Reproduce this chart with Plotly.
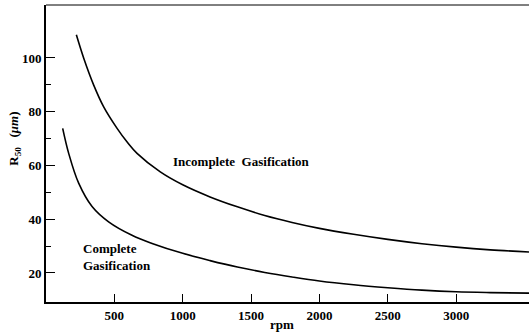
import plotly.graph_objects as go

# Data
rpm_incomplete = [222, 276, 349, 422, 520, 595, 666, 836, 1000, 1200, 1400, 1600, 1800, 2000,
                  2250, 2500, 2750, 3000, 3250, 3533]
r50_incomplete = [108.6, 99.9, 89.9, 81.8, 73.8, 68.6, 64.5, 57.6, 52.8, 48.3, 44.6, 41.4, 38.8,
                  36.6, 34.4, 32.5, 30.9, 29.6, 28.6, 27.8]

rpm_complete = [122, 166, 239, 337, 458, 629, 776, 1000, 1200, 1400, 1600, 1800, 2000,
                2250, 2500, 2750, 3000, 3250, 3533]
r50_complete = [73.8, 64.5, 53.4, 44.7, 39.0, 34.0, 31.0, 27.3, 24.6, 22.2, 20.2, 18.5, 17.0,
                15.6, 14.5, 13.6, 13.0, 12.7, 12.5]

x_ticks = [500, 1000, 1500, 2000, 2500, 3000]
y_ticks = [20, 40, 60, 80, 100]
y_minor = [30, 50, 70, 90]

FONT = "Liberation Serif"

fig = go.Figure()
for xs, ys in [(rpm_incomplete, r50_incomplete), (rpm_complete, r50_complete)]:
    fig.add_trace(go.Scatter(x=xs, y=ys, mode="lines",
                             line=dict(color="black", width=1.6, shape="spline", smoothing=1.0),
                             showlegend=False, hoverinfo="skip"))

fig.update_layout(
    width=529, height=335,
    margin=dict(l=46, r=0, t=5, b=33),
    paper_bgcolor="white", plot_bgcolor="white",
    font=dict(family=FONT, size=13, color="black"),
    xaxis=dict(range=[0, 3533], tickvals=x_ticks, ticks="inside", ticklen=8, tickwidth=1,
               tickcolor="black", showline=True, linecolor="black", linewidth=2,
               showgrid=False, zeroline=False,
               tickfont=dict(family=FONT, size=13, color="black", weight="bold")),
    yaxis=dict(range=[9.2, 119.7], tickvals=y_ticks, ticks="inside", ticklen=9, tickwidth=1,
               tickcolor="black", showline=True, linecolor="black", linewidth=2,
               showgrid=False, zeroline=False,
               minor=dict(tickmode="array", tickvals=y_minor, ticks="inside", ticklen=5,
                          tickwidth=1, tickcolor="black"),
               tickfont=dict(family=FONT, size=13, color="black", weight="bold")),
)

fig.add_shape(type="line", xref="paper", yref="paper", x0=0, x1=1, y0=1, y1=1,
              line=dict(color="black", width=1))

fig.add_annotation(xref="paper", yref="paper", x=0.489, y=-0.0774, xanchor="center",
                   yanchor="middle", text="<b>rpm</b>",
                   showarrow=False, font=dict(family=FONT, size=13))
fig.add_annotation(xref="paper", yref="paper", x=-0.064, y=0.55, xanchor="center",
                   yanchor="middle",
                   text="<b>R<sub>50</sub>   (<i>μm</i>)</b>", textangle=-90,
                   showarrow=False, font=dict(family=FONT, size=13))
fig.add_annotation(x=1432, y=61.3, text="<b>Incomplete  Gasification</b>", showarrow=False,
                   font=dict(family=FONT, size=13))
fig.add_annotation(x=259, y=25.8, xanchor="left", align="left",
                   text="<b>Complete<br>Gasification</b>", showarrow=False,
                   font=dict(family=FONT, size=13))

fig.write_html("out.html")
